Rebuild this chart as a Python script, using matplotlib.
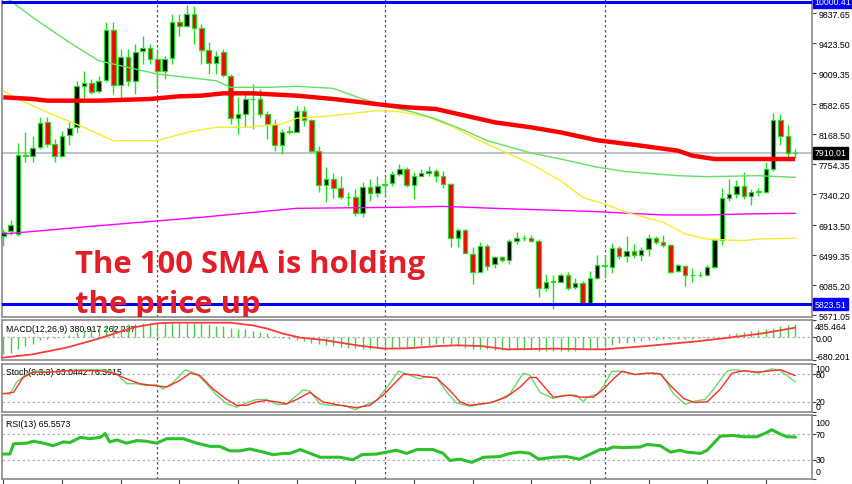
import matplotlib
matplotlib.use('Agg')
import matplotlib.pyplot as plt
import matplotlib.transforms as mtransforms
import numpy as np

# ---------------- data ----------------
opens = [6758, 6827, 6790, 7870, 7863, 7987, 8333, 8033, 7863, 8158,
         8263, 8830, 8871, 8761, 8912, 9612, 8848, 9230, 8908, 9313,
         9354, 9207, 9046, 9216, 9723, 9667, 9828, 9631, 9336, 9147,
         9299, 8977, 8392, 8448, 8655, 8655, 8448, 8309, 8019, 8204,
         8204, 8494, 8369, 7941, 7467, 7550, 7421, 7297, 7306, 7080,
         7435, 7357, 7470, 7495, 7619, 7688, 7472, 7596, 7633, 7656,
         7596, 7481, 6731, 6850, 6514, 6270, 6620, 6376, 6468, 6431,
         6698, 6731, 6731, 6698, 6040, 6132, 6132, 6224, 6054, 6114,
         5838, 6178, 6362, 6330, 6592, 6491, 6560, 6500, 6583, 6731,
         6684, 6638, 6284, 6353, 6224, 6224, 6224, 6330, 6712, 7283,
         7343, 7449, 7320, 7375, 7375, 7688, 8369, 8139, 7909]
highs = [6860, 6988, 8047, 8194, 8148, 8402, 8402, 8102, 8217, 8342,
         8908, 9046, 8931, 8977, 9713, 9713, 9345, 9345, 9414, 9529,
         9414, 9345, 9253, 9828, 9828, 9953, 9944, 9690, 9437, 9322,
         9345, 9000, 8678, 8724, 8862, 8793, 8494, 8379, 8240, 8286,
         8563, 8563, 8379, 8010, 7711, 7633, 7596, 7375, 7412, 7513,
         7550, 7596, 7573, 7665, 7757, 7711, 7642, 7688, 7734, 7688,
         7665, 7490, 6869, 6860, 6606, 6675, 6652, 6491, 6491, 6721,
         6813, 6777, 6777, 6721, 6238, 6224, 6252, 6261, 6178, 6146,
         6284, 6500, 6500, 6666, 6629, 6758, 6652, 6606, 6790, 6758,
         6777, 6652, 6376, 6355, 6316, 6284, 6362, 6731, 7421, 7550,
         7541, 7651, 7412, 7421, 7780, 8461, 8448, 8296, 7964]
lows = [6629, 6777, 6767, 7780, 7789, 7964, 7987, 7789, 7849, 8019,
        8185, 8609, 8724, 8738, 8885, 8724, 8632, 8839, 8724, 9138,
        9138, 8793, 8931, 9138, 9529, 9644, 9414, 9138, 9000, 9000,
        8954, 8309, 8171, 8263, 8240, 8402, 8102, 7941, 7895, 8171,
        8194, 8286, 7918, 7375, 7237, 7283, 7274, 7182, 7034, 7021,
        7251, 7297, 7320, 7458, 7596, 7435, 7274, 7587, 7596, 7513,
        7421, 6606, 6606, 6528, 6100, 6261, 6298, 6316, 6399, 6376,
        6652, 6698, 6675, 5916, 6008, 5755, 6123, 6022, 6031, 5824,
        5810, 6169, 6178, 6252, 6445, 6399, 6454, 6422, 6482, 6652,
        6606, 6252, 6261, 6068, 6123, 6192, 6215, 6316, 6638, 7251,
        7283, 7274, 7191, 7311, 7357, 7665, 8019, 7817, 7835]
closes = [6813, 6915, 7881, 7878, 7978, 8323, 8033, 7872, 8148, 8250,
          8830, 8876, 8756, 8908, 9612, 8848, 9230, 8908, 9308, 9354,
          9207, 9046, 9207, 9723, 9667, 9828, 9631, 9336, 9147, 9244,
          8986, 8392, 8448, 8655, 8660, 8448, 8309, 8019, 8204, 8210,
          8494, 8369, 7941, 7467, 7550, 7421, 7297, 7306, 7080, 7435,
          7357, 7458, 7481, 7619, 7688, 7472, 7587, 7633, 7665, 7596,
          7481, 6731, 6850, 6528, 6270, 6620, 6353, 6468, 6431, 6698,
          6731, 6735, 6698, 6040, 6132, 6136, 6224, 6040, 6114, 5838,
          6178, 6362, 6350, 6592, 6491, 6560, 6500, 6574, 6731, 6684,
          6638, 6270, 6367, 6224, 6228, 6230, 6330, 6712, 7283, 7343,
          7449, 7311, 7375, 7380, 7688, 8369, 8139, 7909, 7910.01]

sma100_idx = [1, 5, 7, 14, 21, 25, 28, 31, 35, 41, 46, 53, 56, 60, 64, 68, 73, 77, 82, 88, 93, 95, 98, 109]
sma100_val = [8678, 8655, 8632, 8632, 8655, 8692, 8701, 8733, 8733, 8701, 8655, 8572, 8540, 8517, 8425,
              8333, 8263, 8194, 8085, 8010, 7941, 7872, 7826, 7826]
green_idx = [1, 2, 5, 10, 14, 19, 22, 26, 30, 32, 37, 41, 46, 50, 54, 57, 60, 64, 67, 73, 77, 82, 86, 93, 97, 104, 109]
green_val = [10060, 10013, 9782, 9437, 9184, 9069, 9000, 8954, 8908, 8816, 8816, 8830, 8802, 8655, 8540,
             8471, 8379, 8217, 8079, 7909, 7826, 7713, 7651, 7596, 7582, 7596, 7573]
yellow_idx = [1, 3, 7, 12, 16, 22, 26, 30, 34, 39, 41, 46, 52, 55, 59, 62, 66, 70, 73, 77, 80, 83, 86, 91,
              94, 97, 102, 104, 109]
yellow_val = [8770, 8655, 8471, 8263, 8079, 8079, 8194, 8263, 8263, 8309, 8388, 8425, 8494, 8480, 8402,
              8286, 8079, 7895, 7757, 7527, 7297, 7205, 7090, 6952, 6790, 6721, 6698, 6721, 6731]
magenta_idx = [1, 14, 28, 41, 55, 61, 68, 82, 91, 97, 102, 109]
magenta_val = [6790, 6905, 7021, 7145, 7159, 7172, 7145, 7099, 7053, 7053, 7067, 7076]

price_ticks = [9837.65, 9423.50, 9009.35, 8582.65, 8168.50, 7754.35, 7340.20, 6913.50, 6499.35, 6085.20, 5671.05]
level_top = 10000.41
level_bottom = 5823.51
last_price = 7910.01
separators = [22, 53, 83]

macd_main = [-514, -466, -369, -272, -223, -97, -58, -29, -19, 39,
             136, 194, 233, 262, 330, 330, 340, 359, 378, 388,
             388, 407, 407, 427, 427, 437, 427, 407, 359, 310,
             310, 262, 233, 213, 165, 136, 97, 19, -39, -78,
             -97, -126, -175, -223, -252, -272, -291, -320, -340, -349,
             -349, -330, -320, -320, -291, -291, -272, -252, -233, -223,
             -194, -252, -272, -320, -349, -369, -369, -388, -388, -388,
             -388, -388, -388, -407, -407, -407, -407, -407, -407, -369,
             -369, -349, -291, -233, -194, -175, -146, -126, -107, -97,
             -78, -78, -68, -58, -58, -49, -39, -29, -10, 68,
             116, 136, 165, 194, 213, 262, 310, 340, 381]
macd_sig_idx = [1, 5, 9.6, 14, 16.5, 19, 22, 24, 32, 35, 37, 39, 41.5, 44.7, 49.2, 52.9, 56, 60.6, 62.9,
                66, 69.7, 76.5, 81, 83, 88.8, 95.6, 100, 104.6, 109]
macd_sig_val = [-611, -514, -320, -58, 116, 281, 388, 407, 407, 330, 233, 97, -29, -97, -252, -349, -340,
                -272, -252, -272, -369, -349, -369, -369, -272, -136, -29, 97, 262]
macd_labels = ["485.464", "0.00", "-680.201"]

stoch_k_idx = [1.0, 1.9, 2.8, 4.2, 5.5, 7.4, 9.6, 11.9, 14.2, 15.5, 16.5, 17.8, 19.2, 20.5, 21.9, 22.8,
               24.2, 25.8, 27.4, 28.7, 30.1, 31.5, 32.8, 34.2, 35.5, 36.9, 38.3, 39.6, 40.5, 41.9, 42.8,
               44.2, 45.5, 47.4, 49.0, 50.6, 51.9, 53.7, 54.9, 56.0, 57.8, 58.7, 60.1, 61.5, 62.8, 64.6,
               66.5, 68.3, 70.1, 71.9, 72.8, 74.2, 76.0, 77.4, 79.2, 80.1, 80.6, 82.0, 82.9, 84.0, 85.2,
               87.0, 88.3, 89.5, 90.8, 92.4, 94.0, 95.4, 96.7, 97.9, 99.7, 100.6, 102.4, 104.0, 105.8,
               107.0, 109.0]
stoch_k_val = [39, 37, 62, 79, 86, 83, 86, 88, 88, 86, 79, 59, 59, 55, 57, 48, 62, 88, 79, 59, 35, 17, 10,
               19, 26, 26, 16, 16, 28, 46, 44, 17, 14, 14, 5, 16, 24, 59, 85, 79, 69, 74, 71, 41, 19, 12,
               17, 23, 38, 81, 77, 41, 28, 35, 35, 21, 31, 37, 55, 85, 85, 78, 79, 82, 79, 38, 16, 23, 26,
               48, 85, 88, 85, 81, 90, 86, 63]
stoch_d_idx = [1.0, 2.4, 3.7, 5.1, 7.4, 9.6, 11.9, 14.2, 16.0, 17.8, 19.6, 21.5, 23.3, 25.1, 26.5, 27.8,
               29.6, 31.5, 32.8, 34.2, 35.5, 36.9, 38.3, 39.6, 41.0, 42.8, 44.6, 46.9, 49.2, 51.0, 52.8,
               55.6, 57.4, 58.3, 60.1, 61.9, 63.3, 64.6, 67.4, 69.6, 71.5, 72.8, 73.7, 76.0, 78.3, 79.7,
               81.5, 82.9, 84.2, 85.4, 87.2, 88.8, 90.6, 92.0, 93.8, 95.2, 97.0, 98.8, 100.4, 102.0,
               103.8, 105.2, 107.0, 109.0]
stoch_d_val = [38, 41, 72, 83, 83, 86, 86, 86, 81, 69, 59, 55, 52, 66, 81, 76, 48, 26, 14, 14, 21, 24, 21,
               17, 26, 41, 21, 14, 9, 14, 35, 79, 77, 74, 71, 45, 21, 14, 19, 31, 52, 72, 72, 31, 35, 31,
               31, 48, 69, 85, 78, 81, 79, 55, 28, 20, 21, 48, 81, 86, 83, 85, 88, 76]
stoch_levels = [80, 20]
stoch_labels = ["100", "80", "20", "0"]

rsi_idx = [1.0, 1.9, 2.4, 4.2, 5.1, 6.5, 7.8, 9.2, 10.1, 11.5, 12.8, 14.2, 14.9, 15.5, 16.5, 17.8, 19.2,
           20.5, 21.9, 23.3, 25.5, 27.4, 29.2, 30.5, 31.9, 33.3, 34.6, 36.5, 37.8, 39.2, 40.1, 41.5, 44.2,
           46.9, 48.7, 49.9, 51.9, 53.3, 54.6, 56.0, 57.4, 59.6, 61.0, 61.9, 63.3, 64.9, 66.5, 68.7, 70.1,
           71.5, 72.8, 74.0, 76.0, 77.8, 79.6, 81.1, 82.4, 83.3, 84.2, 85.6, 87.9, 88.8, 90.6, 92.0, 93.3,
           94.2, 96.1, 97.0, 98.8, 100.6, 101.9, 103.8, 105.2, 105.8, 107.0, 107.9, 109.0]
rsi_val = [39, 39, 55, 56, 59, 56, 52, 58, 57, 65, 63, 65, 71, 58, 61, 56, 60, 59, 56, 63, 63, 56, 51, 51,
           44, 44, 47, 42, 38, 40, 40, 46, 34, 34, 30, 38, 39, 42, 45, 40, 46, 46, 40, 29, 31, 26, 34, 35,
           40, 42, 40, 31, 34, 35, 31, 39, 46, 46, 50, 49, 50, 54, 52, 42, 45, 42, 40, 45, 67, 68, 66, 66,
           73, 77, 70, 66, 65.56]
rsi_levels = [70, 30]
rsi_labels = ["100", "70", "30", "0"]

titles = ["MACD(12,26,9) 380.917 262.237", "Stoch(8,3,3) 63.0442 76.3915", "RSI(13) 65.5573"]
note_lines = ["The 100 SMA is holding", "the price up"]

# ---------------- figure ----------------
W, H = 852, 485
fig = plt.figure(figsize=(W / 100, H / 100), dpi=100)
fig.patch.set_facecolor('white')


def box(x0, y0, x1, y1):
    return [x0 / W, 1 - y1 / H, (x1 - x0) / W, (y1 - y0) / H]


ax = fig.add_axes(box(2, 0, 812, 318))
axm = fig.add_axes(box(2, 321, 812, 361))
axs = fig.add_axes(box(2, 365, 812, 413))
axr = fig.add_axes(box(2, 416, 812, 480))

LIME = '#1fe01f'
SMALL = dict(family='Liberation Sans', size=6.3)
XL = (0.82, 111.3)

for a in (ax, axm, axs, axr):
    a.set_xlim(*XL)
    a.set_facecolor('white')
    for s in a.spines.values():
        s.set_color('#8a8a8a')
        s.set_linewidth(1.2)
    a.set_xticks([])
    a.yaxis.tick_right()
    a.tick_params(axis='y', direction='out', length=3, width=0.8, color='#444444', pad=2,
                  labelsize=6.3, labelcolor='black')
    for sx in separators:
        a.axvline(sx, color='#555555', lw=0.9, ls=(0, (2, 2)), zorder=1)

# ---- main price panel ----
ax.set_ylim(5644, 10036)
ax.set_yticks(price_ticks)
ax.set_yticklabels([f"{v:.2f}" for v in price_ticks], fontfamily='Liberation Sans')

idx = np.arange(1, len(opens) + 1)
o, h, l, c = (np.array(v, dtype=float) for v in (opens, highs, lows, closes))
up = c >= o

ax.axhline(last_price, color='#a9b1ba', lw=1.1, zorder=2)
ax.vlines(idx, l, h, color=LIME, lw=1.0, zorder=3)
body_h = np.maximum(np.abs(c - o), 4)
ax.bar(idx, body_h, bottom=np.minimum(o, c), width=0.62,
       color=np.where(up, 'black', '#ff0000'), edgecolor=LIME, linewidth=0.9, zorder=4)

ax.plot(magenta_idx, magenta_val, color='#ff00ff', lw=1.0, zorder=5)
ax.plot(yellow_idx, yellow_val, color='#f2ee2a', lw=1.0, zorder=5)
ax.plot(green_idx, green_val, color='#5fe35f', lw=1.0, zorder=5)
ax.plot(sma100_idx, sma100_val, color='#ff0000', lw=3.2, zorder=6, solid_capstyle='butt')

ax.axhline(level_top, color='#0000ff', lw=2.2, zorder=7)
ax.axhline(level_bottom, color='#0000ff', lw=2.2, zorder=7)

ytr = mtransforms.blended_transform_factory(ax.transAxes, ax.transData)
for val, fc in ((level_top, '#0000ff'), (level_bottom, '#0000ff'), (last_price, 'black')):
    ax.text(1.003, val, f"{val:.2f}", transform=ytr, ha='left', va='center', color='white',
            bbox=dict(boxstyle='square,pad=0.18', fc=fc, ec=fc), zorder=10, clip_on=False, **SMALL)

ax.text(0.0901, 0.1415, note_lines[0], transform=ax.transAxes, ha='left', va='baseline',
        color='#e41e26', fontsize=22.3, fontweight='bold', family='Open Sans', zorder=20, clip_on=True)
ax.text(0.0901, 0.0157, note_lines[1], transform=ax.transAxes, ha='left', va='baseline',
        color='#e41e26', fontsize=22.3, fontweight='bold', family='Open Sans', zorder=20, clip_on=True)

# ---- MACD ----
axm.set_ylim(-680.201, 485.464)
axm.set_yticks([485.464, 0, -680.201])
axm.set_yticklabels([])
axm.axhline(0, color='#b4b4b4', lw=0.9, ls=(0, (2, 2)), zorder=1)
axm.vlines(idx, 0, macd_main, color='#45cf45', lw=1.0, zorder=3)
axm.plot(macd_sig_idx, macd_sig_val, color='#ff3a3a', lw=1.3, zorder=4)
for txt, fy in zip(macd_labels, (0.84, 0.55, 0.10)):
    axm.text(1.004, fy, txt, transform=axm.transAxes, ha='left', va='center', color='black', **SMALL)
axm.text(0.005, 0.775, titles[0], transform=axm.transAxes, ha='left', va='center', color='black',
         zorder=2, **SMALL)

# ---- Stochastic ----
axs.set_ylim(0, 100)
axs.set_yticks([100, 80, 20, 0])
axs.set_yticklabels([])
for lv in stoch_levels:
    axs.axhline(lv, color='#b4b4b4', lw=0.9, ls=(0, (2, 2)), zorder=1)
axs.plot(stoch_k_idx, stoch_k_val, color='#66dd66', lw=1.0, zorder=3)
axs.plot(stoch_d_idx, stoch_d_val, color='#ff2a2a', lw=1.0, zorder=4)
for txt, fy in zip(stoch_labels, (0.90, 0.785, 0.21, 0.12)):
    axs.text(1.004, fy, txt, transform=axs.transAxes, ha='left', va='center', color='black', **SMALL)
axs.text(0.005, 0.854, titles[1], transform=axs.transAxes, ha='left', va='center', color='black',
         zorder=2, **SMALL)

# ---- RSI ----
axr.set_ylim(0, 100)
axr.set_yticks([100, 70, 30, 0])
axr.set_yticklabels([])
for lv in rsi_levels:
    axr.axhline(lv, color='#b4b4b4', lw=0.9, ls=(0, (2, 2)), zorder=1)
axr.plot(rsi_idx, rsi_val, color='#2cc02c', lw=2.2, zorder=3)
for txt, fy in zip(rsi_labels, (0.89, 0.70, 0.30, 0.11)):
    axr.text(1.004, fy, txt, transform=axr.transAxes, ha='left', va='center', color='black', **SMALL)
axr.text(0.005, 0.864, titles[2], transform=axr.transAxes, ha='left', va='center', color='black',
         zorder=2, **SMALL)
axr.set_xticks(np.arange(1, 110, 8))
axr.set_xticklabels([])
axr.tick_params(axis='x', direction='out', length=4, width=0.8, color='#444444')

fig.savefig('out.png', dpi=100, facecolor='white')
